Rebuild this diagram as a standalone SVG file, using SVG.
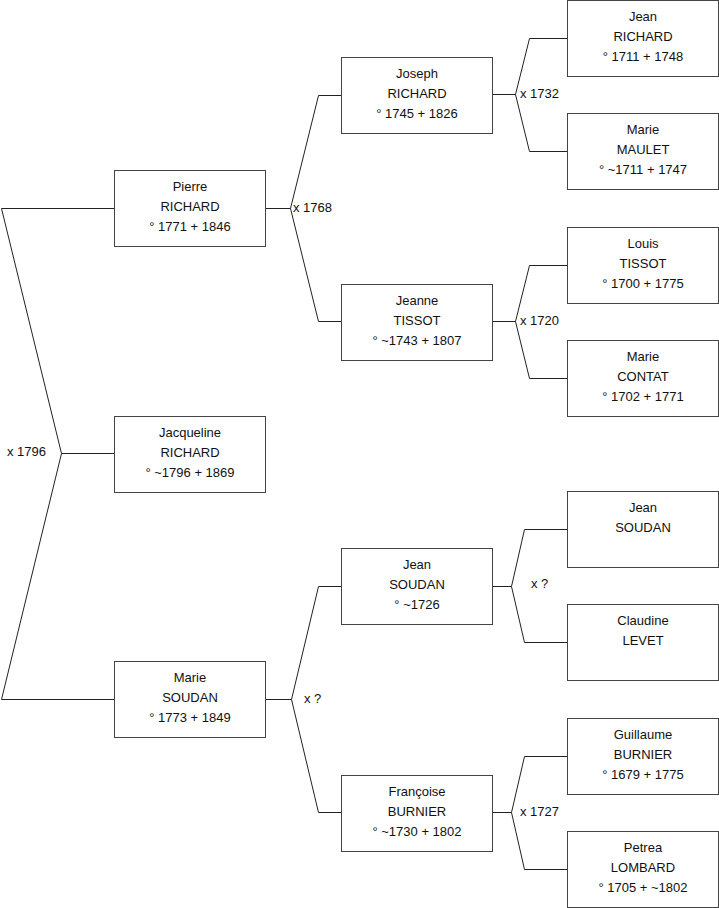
<svg xmlns="http://www.w3.org/2000/svg" width="719" height="908" viewBox="0 0 719 908">
<style>
.box{fill:#fff;stroke:#444;stroke-width:1}
.t{font-family:"Liberation Sans",Arial,sans-serif;font-size:13px;fill:#111;text-anchor:middle}
.lbl{font-family:"Liberation Sans",Arial,sans-serif;font-size:13px;fill:#111}
.c{fill:none;stroke:#222;stroke-width:1}
</style>
<rect width="719" height="908" fill="#fff"/>
<g id="connectors">
<polyline class="c" points="114,208.5 1.5,208.5 61.5,453.5 1.5,699.5 114,699.5"/>
<line class="c" x1="61.5" y1="453.5" x2="114" y2="453.5"/>
<polyline class="c" points="341,95.5 318.5,95.5 290.5,208.5 318.5,321.5 341,321.5"/>
<line class="c" x1="265" y1="208.5" x2="290.5" y2="208.5"/>
<polyline class="c" points="341,586.5 318.5,586.5 291.5,699.5 318.5,812.5 341,812.5"/>
<line class="c" x1="265" y1="699.5" x2="291.5" y2="699.5"/>
<polyline class="c" points="567,38.5 529.5,38.5 515.5,94.5 529.5,151.5 567,151.5"/>
<line class="c" x1="492" y1="94.5" x2="515.5" y2="94.5"/>
<polyline class="c" points="567,265.5 529.5,265.5 515.5,321.5 529.5,378.5 567,378.5"/>
<line class="c" x1="492" y1="321.5" x2="515.5" y2="321.5"/>
<polyline class="c" points="567,529.5 524.5,529.5 511.5,586.5 524.5,642.5 567,642.5"/>
<line class="c" x1="492" y1="586.5" x2="511.5" y2="586.5"/>
<polyline class="c" points="567,756.5 524.5,756.5 511.5,812.5 524.5,869.5 567,869.5"/>
<line class="c" x1="492" y1="812.5" x2="511.5" y2="812.5"/>
<text class="lbl" x="7" y="456">x 1796</text>
<text class="lbl" x="293" y="212">x 1768</text>
<text class="lbl" x="304" y="703">x ?</text>
<text class="lbl" x="520" y="98">x 1732</text>
<text class="lbl" x="520" y="325">x 1720</text>
<text class="lbl" x="531" y="588">x ?</text>
<text class="lbl" x="520" y="816">x 1727</text>
</g>
<g id="jacqueline"><rect class="box" x="114.5" y="416.5" width="151" height="76"/><text class="t" x="190" y="437">Jacqueline</text><text class="t" x="190" y="457">RICHARD</text><text class="t" x="190" y="477">° ~1796 + 1869</text></g>
<g id="pierre"><rect class="box" x="114.5" y="170.5" width="151" height="76"/><text class="t" x="190" y="191">Pierre</text><text class="t" x="190" y="211">RICHARD</text><text class="t" x="190" y="231">° 1771 + 1846</text></g>
<g id="marie-soudan"><rect class="box" x="114.5" y="661.5" width="151" height="76"/><text class="t" x="190" y="682">Marie</text><text class="t" x="190" y="702">SOUDAN</text><text class="t" x="190" y="722">° 1773 + 1849</text></g>
<g id="joseph"><rect class="box" x="341.5" y="57.5" width="151" height="76"/><text class="t" x="417" y="78">Joseph</text><text class="t" x="417" y="98">RICHARD</text><text class="t" x="417" y="118">° 1745 + 1826</text></g>
<g id="jeanne"><rect class="box" x="341.5" y="284.5" width="151" height="76"/><text class="t" x="417" y="305">Jeanne</text><text class="t" x="417" y="325">TISSOT</text><text class="t" x="417" y="345">° ~1743 + 1807</text></g>
<g id="jean-soudan-1"><rect class="box" x="341.5" y="548.5" width="151" height="76"/><text class="t" x="417" y="569">Jean</text><text class="t" x="417" y="589">SOUDAN</text><text class="t" x="417" y="609">° ~1726</text></g>
<g id="francoise"><rect class="box" x="341.5" y="775.5" width="151" height="76"/><text class="t" x="417" y="796">Françoise</text><text class="t" x="417" y="816">BURNIER</text><text class="t" x="417" y="836">° ~1730 + 1802</text></g>
<g id="jean-richard"><rect class="box" x="567.5" y="0.5" width="151" height="76"/><text class="t" x="643" y="21">Jean</text><text class="t" x="643" y="41">RICHARD</text><text class="t" x="643" y="61">° 1711 + 1748</text></g>
<g id="marie-maulet"><rect class="box" x="567.5" y="113.5" width="151" height="76"/><text class="t" x="643" y="134">Marie</text><text class="t" x="643" y="154">MAULET</text><text class="t" x="643" y="174">° ~1711 + 1747</text></g>
<g id="louis-tissot"><rect class="box" x="567.5" y="227.5" width="151" height="76"/><text class="t" x="643" y="248">Louis</text><text class="t" x="643" y="268">TISSOT</text><text class="t" x="643" y="288">° 1700 + 1775</text></g>
<g id="marie-contat"><rect class="box" x="567.5" y="340.5" width="151" height="76"/><text class="t" x="643" y="361">Marie</text><text class="t" x="643" y="381">CONTAT</text><text class="t" x="643" y="401">° 1702 + 1771</text></g>
<g id="jean-soudan-2"><rect class="box" x="567.5" y="491.5" width="151" height="76"/><text class="t" x="643" y="512">Jean</text><text class="t" x="643" y="532">SOUDAN</text></g>
<g id="claudine"><rect class="box" x="567.5" y="604.5" width="151" height="76"/><text class="t" x="643" y="625">Claudine</text><text class="t" x="643" y="645">LEVET</text></g>
<g id="guillaume"><rect class="box" x="567.5" y="718.5" width="151" height="76"/><text class="t" x="643" y="739">Guillaume</text><text class="t" x="643" y="759">BURNIER</text><text class="t" x="643" y="779">° 1679 + 1775</text></g>
<g id="petrea"><rect class="box" x="567.5" y="831.5" width="151" height="76"/><text class="t" x="643" y="852">Petrea</text><text class="t" x="643" y="872">LOMBARD</text><text class="t" x="643" y="892">° 1705 + ~1802</text></g>
</svg>
